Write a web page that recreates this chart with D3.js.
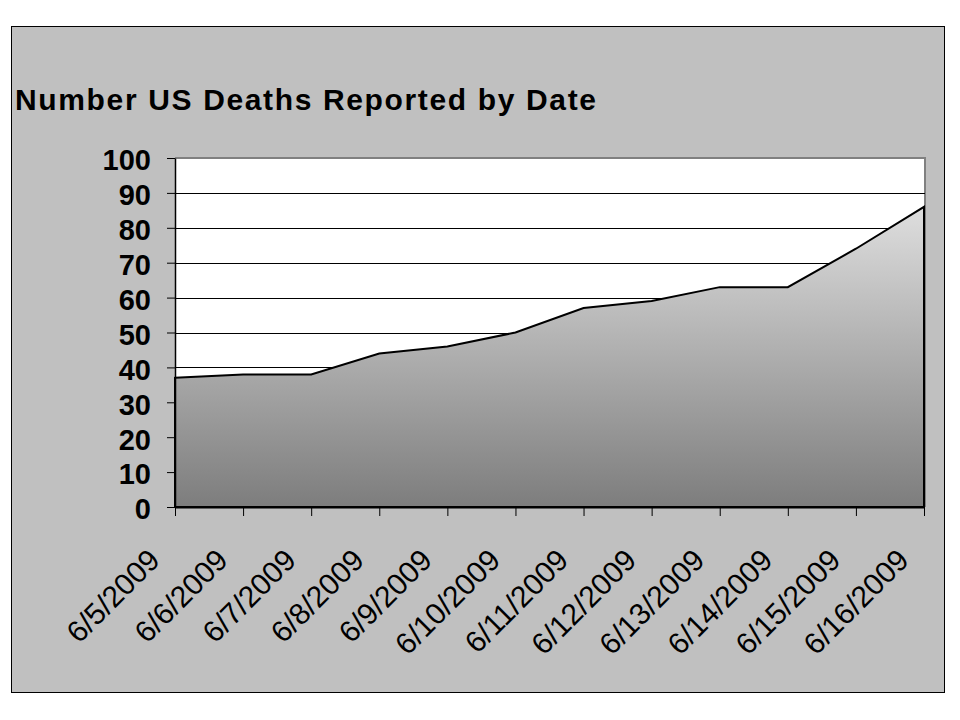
<!DOCTYPE html>
<html>
<head>
<meta charset="utf-8">
<script src="https://cdn.jsdelivr.net/npm/d3@7"></script>
<style>
  html, body { margin: 0; padding: 0; background: #ffffff; }
  svg { display: block; }
  text { font-family: "Liberation Sans", Arial, sans-serif; }
</style>
</head>
<body>
<svg id="chart" width="960" height="720"></svg>
<script>
const dates = ["6/5/2009","6/6/2009","6/7/2009","6/8/2009","6/9/2009","6/10/2009",
               "6/11/2009","6/12/2009","6/13/2009","6/14/2009","6/15/2009","6/16/2009"];
const deaths = [37, 38, 38, 44, 46, 50, 57, 59, 63, 63, 74, 86];
const yTicks = [0, 10, 20, 30, 40, 50, 60, 70, 80, 90, 100];
const titleText = "Number US Deaths Reported by Date";

const data = dates.map((d, i) => ({ date: d, value: deaths[i] }));

const svg = d3.select("#chart");

// Outer chart frame
svg.append("rect")
  .attr("x", 11.5).attr("y", 26.5)
  .attr("width", 933).attr("height", 666)
  .attr("fill", "#c0c0c0")
  .attr("stroke", "#000").attr("stroke-width", 1);

const plot = { left: 175, right: 924, top: 158, bottom: 507 };

const x = d3.scalePoint().domain(dates).range([plot.left, plot.right]);
const y = d3.scaleLinear().domain([0, 100]).range([plot.bottom, plot.top]);

// Plot area background
svg.append("rect")
  .attr("x", plot.left).attr("y", plot.top)
  .attr("width", plot.right - plot.left + 1).attr("height", plot.bottom - plot.top)
  .attr("fill", "#ffffff");

// Plot border (top and right, gray)
svg.append("path")
  .attr("d", `M${plot.left},${plot.top} H${plot.right + 1} V${plot.bottom}`)
  .attr("fill", "none").attr("stroke", "#808080").attr("stroke-width", 2);

// Gridlines
svg.append("g")
  .selectAll("line")
  .data(yTicks.filter(t => t > 0 && t < 100))
  .join("line")
  .attr("x1", plot.left).attr("x2", plot.right + 1)
  .attr("y1", d => Math.round(y(d)) + 0.5).attr("y2", d => Math.round(y(d)) + 0.5)
  .attr("stroke", "#000").attr("stroke-width", 1);

// Gradient
const defs = svg.append("defs");
const grad = defs.append("linearGradient")
  .attr("id", "areaGrad")
  .attr("x1", 0).attr("y1", 0).attr("x2", 0).attr("y2", 1);
grad.append("stop").attr("offset", "0%").attr("stop-color", "#dedede");
grad.append("stop").attr("offset", "100%").attr("stop-color", "#7d7d7d");

// Area
const area = d3.area()
  .x(d => x(d.date))
  .y0(y(0))
  .y1(d => y(d.value));

svg.append("path")
  .datum(data)
  .attr("d", area)
  .attr("fill", "url(#areaGrad)")
  .attr("stroke", "#000")
  .attr("stroke-width", 2)
  .attr("stroke-linejoin", "miter");

// Y axis
const yAxis = d3.axisLeft(y)
  .tickValues(yTicks)
  .tickSize(8)
  .tickSizeOuter(0)
  .tickPadding(16)
  .tickFormat(d3.format("d"));

const gy = svg.append("g")
  .attr("transform", `translate(${plot.left},0)`)
  .call(yAxis);
gy.select(".domain").attr("stroke", "#000").attr("stroke-width", 1.5);
gy.selectAll(".tick line").attr("stroke", "#000");
gy.selectAll(".tick text")
  .attr("fill", "#000")
  .attr("dy", "0.41em")
  .style("font-size", "29px")
  .style("font-weight", "bold")
  .style("font-family", "'Liberation Sans', Arial, sans-serif");

// X axis
const xAxis = d3.axisBottom(x)
  .tickSize(9)
  .tickSizeOuter(0);

const gx = svg.append("g")
  .attr("transform", `translate(0,${plot.bottom})`)
  .call(xAxis);
gx.select(".domain").attr("stroke", "#000").attr("stroke-width", 2);
gx.selectAll(".tick line").attr("stroke", "#000");
gx.selectAll(".tick text")
  .attr("fill", "#000")
  .attr("text-anchor", "end")
  .attr("x", -14)
  .attr("y", 55)
  .attr("dy", 0)
  .attr("transform", "rotate(-45,-14,55)")
  .style("font-size", "30px")
  .style("font-family", "'Liberation Sans', Arial, sans-serif");

// Title
svg.append("text")
  .attr("x", 15)
  .attr("y", 110)
  .attr("textLength", 581)
  .attr("lengthAdjust", "spacing")
  .style("font-size", "30px")
  .style("font-weight", "bold")
  .attr("fill", "#000")
  .text(titleText);
</script>
</body>
</html>
